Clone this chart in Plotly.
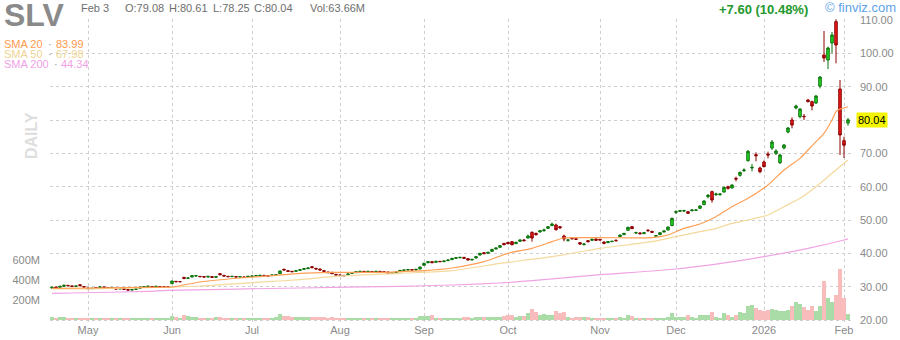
import plotly.graph_objects as go
import pandas as pd

# ---------------- data ----------------
HOLIDAYS = ['2025-04-18', '2025-05-26', '2025-06-19', '2025-07-04', '2025-09-01',
            '2025-11-27', '2025-12-25', '2026-01-01', '2026-01-19']
dates = [d.strftime('%Y-%m-%d') for d in
         pd.bdate_range('2025-04-17', '2026-02-03', freq='C', holidays=HOLIDAYS)]

open_ = [
    29.6, 29.9, 29.8, 30.1, 30.4, 30.2, 30.1, 30.6, 30.0,
    29.6, 29.4, 29.7, 29.8, 29.9, 29.7, 29.6, 29.6, 29.3, 29.5, 29.1, 29.0, 29.2, 29.5, 29.9, 30.1, 30.0, 30.0, 30.0, 30.0, 29.9,
    30.9, 31.6, 31.5, 32.8, 32.5, 32.9, 33.2, 33.1, 33.0, 32.9, 33.0, 32.8, 33.9, 33.4, 33.1, 33.0, 33.0, 32.9, 32.9, 32.9,
    33.1, 33.2, 33.3, 33.4, 33.3, 33.3, 33.5, 33.9, 35.2, 34.8, 34.6, 34.6, 34.9, 35.2, 35.4, 36.0, 35.5, 35.3, 34.8, 34.4, 34.3, 33.7,
    33.5, 33.4, 33.6, 34.0, 34.2, 34.5, 34.6, 34.5, 34.5, 34.4, 34.6, 34.5, 34.4, 34.0, 34.2, 34.5, 34.9, 35.0, 35.1, 35.0, 35.3,
    36.4, 37.2, 37.5, 37.3, 37.6, 37.5, 37.8, 38.1, 38.5, 38.7, 38.8, 38.4, 38.0, 38.6, 39.5, 40.2, 40.0, 40.6, 41.3, 41.8, 43.0,
    43.3, 43.5, 42.9, 43.6, 44.0, 44.6, 46.3, 46.0, 46.4, 46.8, 47.5, 48.3, 48.5, 48.0, 45.2, 43.9, 44.6, 44.4, 43.2, 42.6, 43.8, 43.9, 44.3,
    44.2, 43.4, 43.2, 43.5, 43.9, 45.0, 45.6, 46.9, 48.0, 46.1, 46.1, 45.9, 46.9, 46.6, 45.1, 45.6, 46.4, 47.0, 48.3,
    52.3, 52.6, 52.7, 52.5, 52.8, 52.9, 53.5, 54.6, 57.0, 58.5, 57.6, 57.6, 58.4, 60.0, 59.6, 62.5, 63.4, 64.8, 67.8, 65.6, 69.6, 65.6,
    67.4, 69.8, 71.6, 70.0, 67.2, 71.6, 76.4, 80.0, 83.6, 81.0, 81.1, 86.0, 85.5, 85.1, 90.2, 99.5, 98.0, 103.1, 109.5, 89.3,
    73.8, 79.08]

high = [
    30.0, 30.0, 30.2, 30.6, 30.5, 30.3, 30.3, 30.7, 30.1,
    29.7, 29.7, 29.8, 30.1, 30.0, 29.8, 29.9, 29.7, 29.6, 29.6, 29.2, 29.2, 29.4, 30.0, 30.1, 30.3, 30.1, 30.2, 30.1, 30.2, 30.0,
    31.8, 31.7, 31.7, 32.9, 32.8, 33.4, 33.4, 33.2, 33.1, 33.2, 33.1, 33.1, 34.1, 33.5, 33.2, 33.2, 33.1, 33.1, 33.0, 33.2,
    33.3, 33.4, 33.5, 33.5, 33.4, 33.6, 33.7, 34.8, 35.4, 34.9, 34.7, 34.9, 35.2, 35.5, 35.7, 36.2, 35.6, 35.4, 34.9, 34.5, 34.4, 33.8,
    33.6, 33.5, 33.9, 34.2, 34.6, 34.7, 34.7, 34.7, 34.6, 34.7, 34.7, 34.6, 34.5, 34.2, 34.5, 35.0, 35.1, 35.2, 35.2, 35.3, 36.0,
    37.2, 37.6, 37.6, 37.7, 37.7, 37.8, 38.1, 38.6, 38.8, 38.9, 38.9, 38.5, 38.3, 39.1, 40.1, 40.3, 40.4, 41.3, 41.7, 42.4, 43.1,
    43.4, 43.7, 43.5, 44.2, 44.3, 45.6, 46.6, 46.2, 47.0, 47.4, 48.1, 49.2, 48.9, 48.2, 45.6, 44.3, 44.8, 44.6, 43.4, 43.0, 44.0, 44.4, 44.5,
    44.3, 43.6, 43.6, 43.8, 44.2, 45.6, 46.1, 48.0, 48.1, 46.5, 46.4, 46.3, 47.3, 46.7, 45.5, 46.3, 46.8, 48.0, 50.7,
    52.9, 53.0, 53.1, 52.6, 53.3, 53.2, 54.4, 55.9, 57.8, 58.8, 58.2, 58.1, 60.0, 60.3, 60.7, 63.0, 64.5, 65.5, 71.0, 66.8, 70.3, 66.0,
    67.9, 70.5, 74.0, 71.2, 69.9, 72.8, 77.9, 80.8, 84.6, 83.5, 81.8, 86.3, 85.8, 87.5, 93.2, 106.7, 102.0, 106.4, 110.2, 92.0,
    75.0, 80.61]

low = [
    29.4, 29.5, 29.7, 30.0, 30.1, 29.9, 30.0, 30.2, 29.7,
    29.3, 29.3, 29.5, 29.7, 29.7, 29.4, 29.5, 29.2, 29.2, 29.0, 28.9, 28.9, 29.1, 29.4, 29.8, 30.0, 29.8, 29.9, 29.8, 29.9, 29.7,
    30.8, 31.3, 31.4, 32.2, 32.3, 32.8, 33.0, 32.9, 32.8, 32.8, 32.7, 32.7, 33.4, 33.1, 32.9, 32.9, 32.8, 32.8, 32.7, 32.8,
    33.0, 33.1, 33.2, 33.2, 33.1, 33.2, 33.4, 33.8, 34.9, 34.5, 34.3, 34.5, 34.8, 35.1, 35.3, 35.6, 35.2, 34.9, 34.5, 34.1, 33.8, 33.3,
    33.2, 33.1, 33.5, 33.9, 34.1, 34.4, 34.4, 34.4, 34.3, 34.3, 34.4, 34.2, 33.9, 33.9, 34.1, 34.4, 34.8, 34.9, 34.9, 34.9, 35.2,
    36.3, 37.0, 37.1, 37.2, 37.4, 37.4, 37.7, 38.0, 38.4, 38.5, 38.4, 37.9, 37.9, 38.5, 39.4, 39.8, 39.9, 40.5, 41.2, 41.7, 42.4,
    42.7, 42.4, 42.8, 43.5, 43.6, 44.5, 43.5, 45.3, 46.3, 46.5, 47.3, 48.2, 46.8, 47.3, 43.6, 43.5, 44.1, 44.0, 42.5, 42.4, 43.3, 43.8, 43.8,
    43.8, 42.7, 43.1, 43.4, 43.5, 44.9, 45.5, 46.8, 47.3, 45.8, 45.6, 45.8, 46.5, 46.1, 45.0, 45.5, 46.3, 46.9, 48.2,
    51.8, 52.4, 52.4, 51.8, 52.6, 52.7, 53.4, 54.5, 56.5, 55.2, 57.2, 57.3, 58.2, 59.1, 59.5, 61.6, 63.0, 64.4, 67.5, 64.6, 67.6, 64.0,
    65.8, 68.5, 71.0, 69.5, 66.8, 71.2, 76.0, 77.5, 83.2, 80.5, 80.0, 85.3, 82.9, 84.8, 89.5, 97.4, 95.3, 100.0, 97.0, 69.5,
    68.6, 78.25]

close = [
    29.8, 29.6, 30.1, 30.4, 30.3, 30.1, 30.2, 30.3, 29.9,
    29.4, 29.5, 29.6, 29.9, 29.8, 29.6, 29.7, 29.3, 29.5, 29.2, 29.0, 29.1, 29.3, 29.9, 30.0, 30.1, 29.9, 30.1, 30.0, 30.0, 29.9,
    31.7, 31.5, 31.5, 32.5, 32.6, 33.3, 33.3, 33.0, 32.9, 33.1, 32.8, 33.0, 33.6, 33.2, 33.0, 33.1, 32.9, 33.0, 32.8, 33.1,
    33.2, 33.3, 33.4, 33.3, 33.2, 33.5, 33.6, 34.7, 35.0, 34.6, 34.5, 34.8, 35.1, 35.4, 35.6, 35.7, 35.3, 35.0, 34.6, 34.2, 33.9, 33.5,
    33.4, 33.3, 33.8, 34.1, 34.5, 34.6, 34.5, 34.6, 34.4, 34.6, 34.5, 34.3, 34.0, 34.1, 34.4, 34.9, 35.0, 35.1, 35.0, 35.2, 35.9,
    37.0, 37.5, 37.2, 37.6, 37.5, 37.7, 38.0, 38.5, 38.7, 38.8, 38.5, 38.0, 38.2, 39.0, 40.0, 39.9, 40.3, 41.2, 41.6, 42.3, 42.6,
    42.9, 42.6, 43.3, 44.0, 43.8, 45.2, 44.6, 45.6, 46.8, 47.0, 48.0, 48.8, 47.1, 47.7, 44.3, 44.0, 44.4, 44.2, 42.8, 42.8, 43.5, 44.2, 43.9,
    44.0, 43.0, 43.5, 43.6, 43.8, 45.5, 46.0, 47.8, 47.4, 46.2, 45.9, 46.2, 46.8, 46.3, 45.3, 46.2, 46.7, 47.9, 50.5,
    52.5, 52.8, 52.8, 52.0, 53.0, 53.0, 54.2, 55.7, 57.4, 56.0, 57.8, 57.8, 59.8, 59.5, 60.5, 62.3, 64.3, 65.0, 70.6, 65.8, 69.3, 64.5,
    66.0, 69.5, 73.4, 70.7, 69.5, 72.5, 77.6, 78.5, 84.2, 83.3, 81.0, 85.5, 84.2, 87.2, 92.9, 98.6, 101.6, 105.5, 102.5, 75.5,
    72.44, 80.04]

volume_m = [
    27, 25, 28, 30, 24, 22, 20, 25, 22,
    24, 20, 18, 20, 17, 18, 17, 22, 18, 20, 18, 17, 16, 20, 22, 20, 18, 17, 18, 16, 20,
    37, 28, 25, 50, 45, 35, 30, 25, 22, 24, 22, 30, 30, 25, 22, 24, 20, 22, 18, 20,
    22, 20, 18, 20, 17, 22, 30, 60, 45, 43, 30, 28, 26, 30, 28, 35, 30, 33, 28, 25, 30, 25,
    22, 20, 20, 22, 25, 20, 18, 20, 18, 20, 17, 18, 22, 18, 20, 25, 22, 20, 20, 22, 37,
    37, 37, 50, 25, 22, 23, 25, 25, 22, 23, 30, 30, 25, 33, 35, 30, 33, 35, 33, 33, 40,
    50, 50, 35, 40, 40, 70, 110, 83, 55, 60, 50, 55, 93, 70, 83, 35, 25, 27, 27, 35, 27, 23, 23,
    22, 20, 20, 18, 18, 30, 25, 50, 37, 25, 22, 22, 25, 25, 20, 22, 25, 30, 70,
    35, 32, 30, 50, 35, 20, 50, 55, 55, 80, 30, 20, 70, 50, 35, 50, 80, 75, 140, 150, 120, 100,
    90, 100, 110, 100, 90, 95, 105, 140, 180, 160, 130, 100, 140, 90, 140, 390, 220, 180, 250, 510,
    220, 63.66]

# moving averages (trading-day index -> value)
sma20_idx = [0, 12, 24, 30, 37, 47, 55, 62, 70, 83, 87, 93, 100, 108, 114, 120, 125, 128, 137, 150,
             154, 158, 162, 166, 170, 174, 179, 183, 187, 189, 191, 193, 195, 196, 197, 198, 199]
sma20_val = [29.5, 29.6, 29.8, 29.9, 31.4, 32.6, 33.3, 34.0, 34.3, 34.3, 34.5, 34.8, 35.6, 37.5, 40.0,
             41.5, 43.5, 44.6, 44.7, 44.7, 45.5, 47.5, 48.8, 51.0, 54.0, 56.5, 60.5, 65.0, 68.5, 71.0,
             73.5, 76.0, 80.0, 82.5, 83.3, 83.6, 83.99]
sma50_idx = [0, 12, 37, 54, 62, 70, 87, 100, 112, 125, 137, 150, 156, 162, 166, 170, 174, 179, 183,
             187, 191, 195, 199]
sma50_val = [29.3, 29.4, 30.2, 31.5, 32.1, 33.0, 34.0, 34.8, 37.0, 39.0, 41.5, 43.5, 45.0, 46.5, 47.5,
             49.0, 50.0, 51.5, 54.0, 56.5, 60.0, 64.0, 67.98]
sma200_idx = [0, 5, 24, 29, 62, 87, 100, 112, 120, 137, 156, 174, 178, 189, 198, 199]
sma200_val = [28.0, 28.1, 28.6, 28.9, 29.6, 30.1, 30.5, 31.1, 31.8, 33.6, 35.3, 38.2, 39.0, 41.5, 44.0, 44.34]

month_ticks = ['2025-05-01', '2025-06-02', '2025-07-01', '2025-08-01', '2025-09-02',
               '2025-10-01', '2025-11-03', '2025-12-01', '2026-01-02', '2026-02-02']
month_labels = ['May', 'Jun', 'Jul', 'Aug', 'Sep', 'Oct', 'Nov', 'Dec', '2026', 'Feb']
price_ticks = [20, 30, 40, 50, 60, 70, 80, 90, 100, 110]
price_labels = ['20.00', '30.00', '40.00', '50.00', '60.00', '70.00', '', '90.00', '100.00', '110.00']
vol_ticks = [200e6, 400e6, 600e6]
vol_labels = ['200M', '400M', '600M']

# ---------------- figure ----------------
W, H = 900, 340
ML, MR, MT, MB = 50, 47, 19, 18
PW, PH = W - ML - MR, H - MT - MB
FONT = 'Liberation Sans, Arial, sans-serif'


def px(x):
    return (x - ML) / PW


def py(y):
    return (H - MB - y) / PH


vol_colors = ['#a9dca6' if c >= o else '#f9bcbc' for o, c in zip(open_, close)]

fig = go.Figure()
fig.add_trace(go.Candlestick(
    x=dates, open=open_, high=high, low=low, close=close, whiskerwidth=0,
    increasing=dict(line=dict(color='#0c6f0c', width=1), fillcolor='#22dd22'),
    decreasing=dict(line=dict(color='#8b0000', width=1), fillcolor='#ee1c1c'),
    hoverinfo='skip'))
fig.add_trace(go.Scatter(x=[dates[i] for i in sma200_idx], y=sma200_val, mode='lines',
                         line=dict(color='#f0a4e4', width=1.2, shape='spline', smoothing=0.6),
                         hoverinfo='skip'))
fig.add_trace(go.Scatter(x=[dates[i] for i in sma50_idx], y=sma50_val, mode='lines',
                         line=dict(color='#f4d99c', width=1.2, shape='spline', smoothing=0.6),
                         hoverinfo='skip'))
fig.add_trace(go.Scatter(x=[dates[i] for i in sma20_idx], y=sma20_val, mode='lines',
                         line=dict(color='#ff9f55', width=1.2, shape='spline', smoothing=0.6),
                         hoverinfo='skip'))
fig.add_trace(go.Bar(x=dates, y=[v * 1e6 for v in volume_m], marker=dict(color=vol_colors, line_width=0),
                     width=1.0, yaxis='y2', hoverinfo='skip'))

grid = dict(showgrid=True, gridcolor='#cfcfcf', gridwidth=1, griddash='3px,3px')

fig.update_layout(
    width=W, height=H, margin=dict(l=ML, r=MR, t=MT, b=MB, autoexpand=False),
    paper_bgcolor='white', plot_bgcolor='white', showlegend=False,
    font=dict(family=FONT, size=11, color='#888888'),
    xaxis=dict(type='category', categoryorder='array', categoryarray=dates,
               range=[-0.5, 200.25], tickmode='array', tickvals=month_ticks,
               ticktext=month_labels, zeroline=False, showline=False, ticks='', tickangle=0,
               rangeslider=dict(visible=False), tickfont=dict(size=11, color='#8a8a8a'), **grid),
    yaxis=dict(side='right', range=[19.4, 110.3], tickmode='array', tickvals=price_ticks,
               ticktext=price_labels, zeroline=False, showline=False, ticks='',
               ticklabelstandoff=6, tickfont=dict(size=11, color='#8a8a8a'), **grid),
    yaxis2=dict(overlaying='y', side='left', range=[-20e6, 3010e6], tickmode='array',
                tickvals=vol_ticks, ticktext=vol_labels, showgrid=False, zeroline=False,
                showline=False, ticks='', ticklabelstandoff=9,
                tickfont=dict(size=11, color='#8a8a8a')),
    bargap=0, boxgap=0.1,
)

ann = []


def text(x, y, s, size=11, color='#6e6e6e', bold=False, anchor='left', **kw):
    ann.append(dict(x=px(x), y=py(y), xref='paper', yref='paper', text=('<b>%s</b>' % s) if bold else s,
                    showarrow=False, xanchor=anchor, yanchor='middle',
                    font=dict(family=FONT, size=size, color=color), **kw))


text(3, 15, 'SLV', size=32, color='#8a8a8a', bold=True, bgcolor='white', borderpad=0, height=30)
text(79, 8, 'Feb 3')
text(123, 8, 'O:79.08')
text(167, 8, 'H:80.61')
text(211, 8, 'L:78.25')
text(252, 8, 'C:80.04')
text(308, 8, 'Vol:63.66M')
text(717, 9, '+7.60 (10.48%)', size=13, color='#23992b', bold=True)
text(823, 8, '© finviz.com', size=13, color='#5ea3ea')

LEG = dict(height=10, borderpad=0)
text(3, 44, 'SMA 20', color='#ff9a4d', **LEG)
text(47, 44, '·', color='#999999', **LEG)
text(55, 44, '83.99', color='#ff9a4d', **LEG)
text(3, 54, 'SMA 50', color='#efd494', **LEG)
text(47, 54, '·', color='#999999', **LEG)
text(55, 54, '67.98', color='#efd494', **LEG)
text(3, 64, 'SMA 200', color='#ef9fe6', **LEG)
text(53, 64, '·', color='#999999', **LEG)
text(60, 64, '44.34', color='#ef9fe6', **LEG)

ann.append(dict(x=px(31), y=py(136), xref='paper', yref='paper', text='<b>DAILY</b>', showarrow=False,
                textangle=-90, xanchor='center', yanchor='middle',
                font=dict(family=FONT, size=16, color='#dedede')))
text(856, 120, '80.04', color='#000000', bgcolor='#f5f500', borderpad=1)

fig.update_layout(annotations=ann)
fig.write_html('out.html')
